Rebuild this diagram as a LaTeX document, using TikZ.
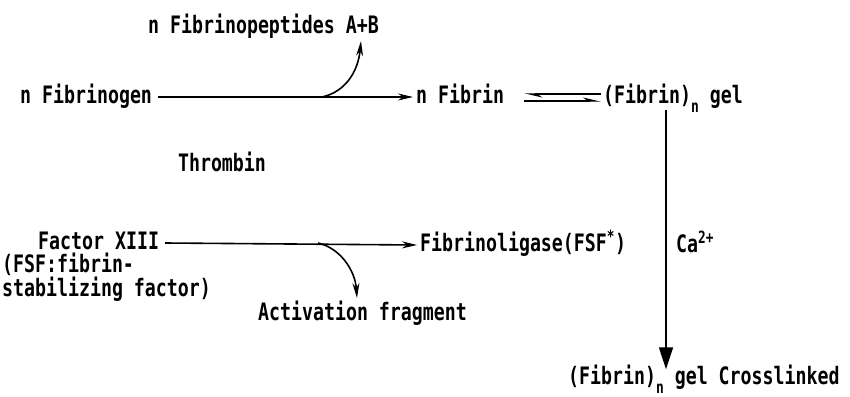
\documentclass[tikz,border=0pt]{standalone}
\usepackage{fontspec}
\setmainfont{DejaVu Sans Mono}[FakeStretch=0.76]
\usetikzlibrary{arrows.meta}
\newcommand{\subn}{\raisebox{-0.36em}{\fontsize{17}{17}\selectfont n}}
\tikzset{
  lbl/.style={inner sep=0pt, anchor=west, text height=17pt, text depth=4pt, font=\fontsize{24}{26}\selectfont\bfseries},
  arr/.style={line width=1.6pt, -{Stealth[length=15pt, width=7pt]}},
  harp/.style={line width=1.4pt, -{Stealth[harpoon, length=15pt, width=7pt]}},
  bigarr/.style={line width=1.6pt, -{Triangle[length=22pt, width=14pt]}},
}
\begin{document}
\begin{tikzpicture}[x=1pt,y=-1pt]
\useasboundingbox (0,0) rectangle (850,396);
\node[lbl] (pep) at (148,27) {n Fibrinopeptides A+B};
\node[lbl] (fgn) at (20,97) {n Fibrinogen};
\node[lbl] (fib) at (416,97) {n Fibrin};
\node[lbl] (gel) at (603,97) {(Fibrin)\subn{} gel};
\node[lbl, anchor=center] (thr) at (222,165) {Thrombin};
\node[lbl] (fac) at (38,243) {Factor XIII};
\node[lbl] (fsf1) at (2,266) {(FSF:fibrin-};
\node[lbl] (fsf2) at (2,290) {stabilizing factor)};
\node[lbl] (lig) at (420,245) {Fibrinoligase(FSF\textsuperscript{*})};
\node[lbl] (act) at (258,314) {Activation fragment};
\node[lbl] (ca) at (676,246) {Ca\textsuperscript{2+}};
\node[lbl] (cross) at (568,378) {(Fibrin)\subn{} gel Crosslinked};
% fibrinogen -> fibrin
\coordinate (b1) at (322,97);
\coordinate (p1) at (361,41);
\draw[arr] ([xshift=6pt]fgn.east) -- ([xshift=-3pt]fib.west);
\draw[arr] (b1) .. controls (345,92) and (358,72) .. (p1);
% equilibrium
\draw[harp] ([xshift=20pt,yshift=-4pt]fib.east) -- ([xshift=-2pt,yshift=-4pt]gel.west);
\draw[harp] ([xshift=-2pt,yshift=3pt]gel.west) -- ([xshift=20pt,yshift=3pt]fib.east);
% crosslinking
\coordinate (vx) at (666,110);
\draw[bigarr] (vx) -- ([yshift=-2pt]cross.north -| vx);
% factor XIII
\coordinate (b2) at (318,243);
\coordinate (a1) at (357,298);
\draw[arr] ([xshift=6pt]fac.east) -- ([xshift=-3pt]lig.west);
\draw[arr] (b2) .. controls (340,248) and (355,270) .. (a1);
\end{tikzpicture}
\end{document}
